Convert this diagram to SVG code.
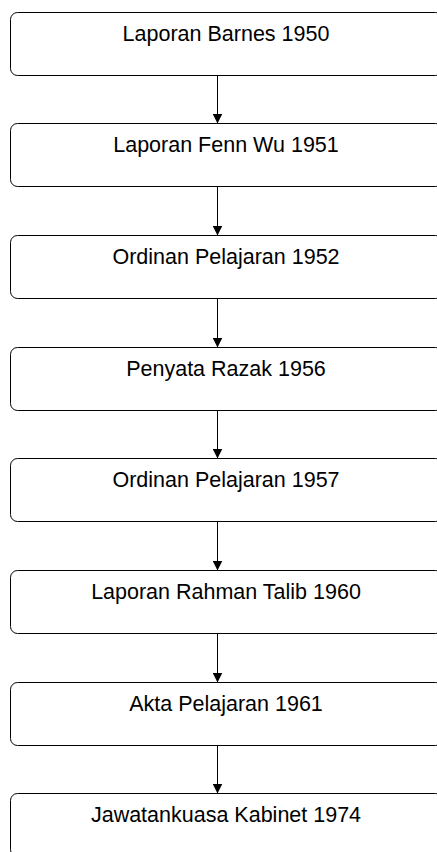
<svg xmlns="http://www.w3.org/2000/svg" width="437" height="852" viewBox="0 0 437 852">
<style>
.box{fill:#fff;stroke:#000;stroke-width:1}
.lbl{font-family:"Liberation Sans",Arial,sans-serif;font-size:21.5px;fill:#000;text-anchor:middle}
.conn{stroke:#000;stroke-width:1;fill:none}
</style>
<defs>
<marker id="ah" markerWidth="10" markerHeight="10" refX="10" refY="5" orient="auto" markerUnits="userSpaceOnUse">
<path d="M0,0 L10,5 L0,10 Z" fill="#000"/>
</marker>
</defs>
<rect width="437" height="852" fill="#fff"/>
<g id="n1"><rect class="box" x="10.5" y="12.5" width="432" height="63" rx="7"/><text class="lbl" x="226" y="41">Laporan Barnes 1950</text></g>
<g id="n2"><rect class="box" x="10.5" y="123.5" width="432" height="63" rx="7"/><text class="lbl" x="226" y="152">Laporan Fenn Wu 1951</text></g>
<g id="n3"><rect class="box" x="10.5" y="235.5" width="432" height="63" rx="7"/><text class="lbl" x="226" y="264">Ordinan Pelajaran 1952</text></g>
<g id="n4"><rect class="box" x="10.5" y="347.5" width="432" height="63" rx="7"/><text class="lbl" x="226" y="376">Penyata Razak 1956</text></g>
<g id="n5"><rect class="box" x="10.5" y="458.5" width="432" height="63" rx="7"/><text class="lbl" x="226" y="487">Ordinan Pelajaran 1957</text></g>
<g id="n6"><rect class="box" x="10.5" y="570.5" width="432" height="63" rx="7"/><text class="lbl" x="226" y="599">Laporan Rahman Talib 1960</text></g>
<g id="n7"><rect class="box" x="10.5" y="682.5" width="432" height="63" rx="7"/><text class="lbl" x="226" y="711">Akta Pelajaran 1961</text></g>
<g id="n8"><rect class="box" x="10.5" y="793.5" width="432" height="63" rx="7"/><text class="lbl" x="226" y="822">Jawatankuasa Kabinet 1974</text></g>
<g id="connectors">
<line class="conn" x1="217.5" y1="75.5" x2="217.5" y2="123.5" marker-end="url(#ah)"/>
<line class="conn" x1="217.5" y1="186.5" x2="217.5" y2="235.5" marker-end="url(#ah)"/>
<line class="conn" x1="217.5" y1="298.5" x2="217.5" y2="347.5" marker-end="url(#ah)"/>
<line class="conn" x1="217.5" y1="410.5" x2="217.5" y2="458.5" marker-end="url(#ah)"/>
<line class="conn" x1="217.5" y1="521.5" x2="217.5" y2="570.5" marker-end="url(#ah)"/>
<line class="conn" x1="217.5" y1="633.5" x2="217.5" y2="682.5" marker-end="url(#ah)"/>
<line class="conn" x1="217.5" y1="745.5" x2="217.5" y2="793.5" marker-end="url(#ah)"/>
</g>
</svg>
